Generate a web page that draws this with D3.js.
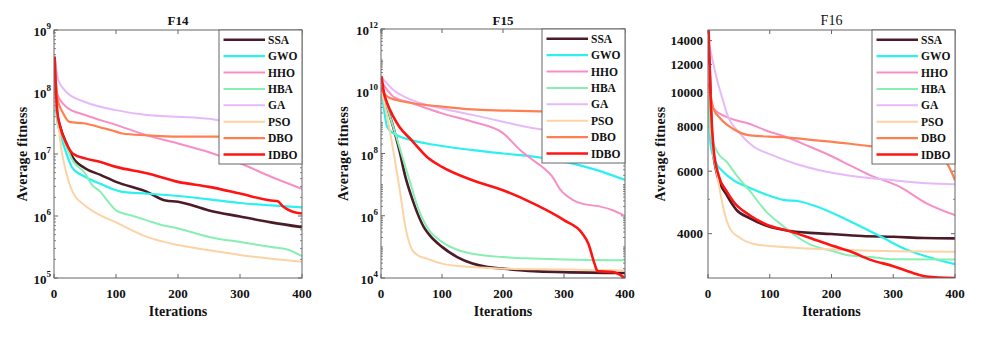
<!DOCTYPE html>
<html>
<head>
<meta charset="utf-8">
<script src="https://cdn.jsdelivr.net/npm/d3@7"></script>
<style>
body { margin: 0; background: #fff; }
text { font-family: "Liberation Serif", "Times New Roman", serif; fill: #111; }
</style>
</head>
<body>
<svg id="chart" width="981" height="338"></svg>
<script>
// ---- data: [iteration, average fitness] ----
const names = ["SSA", "GWO", "HHO", "HBA", "GA", "PSO", "DBO", "IDBO"];
const colors = ["#4b1c28", "#2cf0f0", "#f78fc6", "#88efb3", "#e6b9fb", "#fcd3a4", "#ff7f50", "#ff1414"];
const widths = [2.6, 2.2, 2, 2, 2, 2, 2.2, 2.6];
const iterTicks = [0, 100, 200, 300, 400];

// F14
const f14SSA = [[1,3.7e8],[5,4.5e7],[10,2.75e7],[20,1.48e7],[30,8.9e6],[50,5.9e6],[75,4.6e6],[100,3.55e6],[150,2.45e6],[180,1.78e6],[200,1.7e6],[250,1.23e6],[300,9.8e5],[350,7.9e5],[400,6.6e5]];
const f14GWO = [[1,3.7e8],[5,3.55e7],[10,2.14e7],[20,1.02e7],[30,5.9e6],[50,4.3e6],[75,3.3e6],[100,2.6e6],[110,2.45e6],[150,2.3e6],[200,2.1e6],[250,1.86e6],[300,1.62e6],[350,1.48e6],[400,1.38e6]];
const f14HHO = [[1,3.7e8],[5,9.5e7],[20,5.75e7],[50,4.25e7],[100,2.95e7],[150,2.0e7],[200,1.48e7],[250,1.07e7],[300,7.1e6],[350,4.3e6],[400,2.75e6]];
const f14HBA = [[1,3.7e8],[5,3.55e7],[10,2.4e7],[20,1.32e7],[30,7.9e6],[50,4.9e6],[60,3.3e6],[75,2.45e6],[90,1.58e6],[100,1.23e6],[125,1.02e6],[150,8.5e5],[175,7.1e5],[200,6.3e5],[250,4.6e5],[300,3.8e5],[350,3.16e5],[380,2.8e5],[400,2.25e5]];
const f14GA = [[1,3.7e8],[7,1.55e8],[20,1.0e8],[50,6.9e7],[100,5.1e7],[150,4.25e7],[200,4.0e7],[250,3.7e7],[270,3.45e7],[330,3.16e7],[400,2.8e7]];
const f14PSO = [[1,3.7e8],[3,1.38e8],[5,5.75e7],[10,1.66e7],[20,4.9e6],[30,2.45e6],[50,1.48e6],[75,1.02e6],[100,7.9e5],[125,5.9e5],[150,4.6e5],[200,3.4e5],[250,2.8e5],[300,2.35e5],[350,2.05e5],[400,1.82e5]];
const f14DBO = [[1,3.7e8],[5,8.3e7],[15,4.5e7],[25,3.3e7],[50,3.1e7],[80,2.6e7],[100,2.3e7],[110,2.14e7],[150,2.0e7],[200,1.9e7],[270,1.9e7],[330,1.78e7],[400,1.58e7]];
const f14IDBO = [[1,3.7e8],[5,5.1e7],[10,2.75e7],[20,1.48e7],[30,1.02e7],[50,8.5e6],[75,7.4e6],[100,6.2e6],[150,4.9e6],[200,3.55e6],[250,2.95e6],[300,2.3e6],[350,1.78e6],[360,1.74e6],[370,1.41e6],[385,1.17e6],[400,1.1e6]];

// F15
const f15SSA = [[1,1.6e10],[10,3.2e9],[20,7.2e8],[30,1.29e8],[40,1.78e7],[50,4.1e6],[60,1.17e6],[70,4.4e5],[80,2.35e5],[100,1.0e5],[125,4.7e4],[150,2.9e4],[175,2.24e4],[200,2.0e4],[250,1.66e4],[300,1.55e4],[400,1.45e4]];
const f15GWO = [[1,1.0e10],[5,2.5e9],[10,7.2e8],[20,4.5e8],[50,2.7e8],[75,2.1e8],[100,1.74e8],[150,1.29e8],[200,1.0e8],[250,7.9e7],[300,5.5e7],[350,3.1e7],[400,1.41e7]];
const f15HHO = [[1,2.0e10],[20,6.8e9],[50,4.2e9],[100,1.95e9],[150,1.05e9],[200,4.5e8],[228,1.3e8],[245,7.0e7],[266,3.5e7],[280,1.9e7],[295,6.5e6],[315,3.2e6],[331,2.4e6],[358,2.0e6],[380,1.5e6],[400,9.8e5]];
const f15HBA = [[1,1.6e10],[10,3.2e9],[20,7.2e8],[30,1.66e8],[40,3.7e7],[50,8.5e6],[60,1.95e6],[75,4.4e5],[100,1.45e5],[125,8.1e4],[150,6.0e4],[200,4.7e4],[250,4.2e4],[300,3.9e4],[400,3.7e4]];
const f15GA = [[1,2.8e10],[20,1.12e10],[50,5.25e9],[100,2.8e9],[150,1.74e9],[200,1.05e9],[250,6.5e8],[268,5.75e8],[330,4.0e8],[400,2.8e8]];
const f15PSO = [[1,1.0e10],[10,1.55e9],[20,1.29e8],[30,8.5e6],[40,4.4e5],[50,8.7e4],[60,5.4e4],[75,4.2e4],[100,2.9e4],[150,2.24e4],[200,2.0e4],[300,1.86e4],[400,1.74e4]];
const f15DBO = [[1,1.1e10],[10,6.8e9],[25,5.25e9],[50,4.2e9],[100,3.2e9],[150,2.6e9],[200,2.4e9],[265,2.24e9],[330,2.15e9],[400,2.1e9]];
const f15IDBO = [[1,2.95e10],[5,8.7e9],[10,4.2e9],[20,1.55e9],[30,7.2e8],[50,2.7e8],[75,7.9e7],[100,3.7e7],[150,1.38e7],[200,6.6e6],[250,2.45e6],[300,7.2e5],[330,2.7e5],[340,1.26e5],[350,2.9e4],[355,1.66e4],[380,1.55e4],[400,1.0e4]];

// F16
const f16SSA = [[1,13500],[2,12500],[7,7170],[15,5850],[30,5150],[46,4670],[68,4420],[95,4210],[133,4070],[200,3990],[250,3940],[300,3920],[350,3890],[400,3880]];
const f16GWO = [[1,9900],[4,7170],[12,6380],[25,5970],[41,5660],[68,5380],[95,5150],[122,4980],[149,4930],[176,4770],[214,4470],[240,4250],[278,3940],[321,3610],[354,3450],[400,3280]];
const f16HHO = [[1,10500],[9,9000],[30,8530],[68,8150],[95,7800],[128,7480],[165,7030],[203,6580],[230,6230],[262,5850],[310,5430],[354,4870],[400,4510]];
const f16HBA = [[1,9900],[4,7740],[15,6800],[30,6380],[46,5850],[68,5270],[95,4600],[122,4200],[138,3990],[165,3730],[203,3570],[230,3470],[262,3440],[300,3390],[400,3380]];
const f16GA = [[1,13850],[4,13120],[15,10800],[25,9400],[31,8690],[52,7660],[74,7030],[100,6700],[138,6330],[192,5980],[246,5780],[300,5660],[354,5550],[400,5510]];
const f16PSO = [[1,12000],[2,11150],[7,7170],[15,5850],[25,4710],[36,4120],[52,3890],[78,3730],[122,3670],[200,3610],[300,3570],[400,3560]];
const f16DBO = [[1,10660],[9,8990],[20,8450],[41,7890],[68,7570],[122,7480],[176,7330],[230,7170],[262,7060],[300,6980],[340,6850],[370,6600],[386,6350],[400,5660]];
const f16IDBO = [[1,15000],[4,9900],[9,6950],[17,5850],[30,5270],[41,4930],[68,4500],[95,4240],[133,4060],[165,3890],[203,3690],[230,3570],[262,3380],[300,3240],[332,3100],[354,3030],[400,3000]];

const f14Ticks = [1e5, 1e6, 1e7, 1e8, 1e9];
const f15Ticks = [1e4, 1e6, 1e8, 1e10, 1e12];
const f16Ticks = [4000, 6000, 8000, 10000, 12000, 14000];

// ---- layout ----
const panels = [
    {title: "F14", bold: true, left: 54, right: 302, top: 30, bottom: 278, yDomain: [1e5, 1e9], yTicks: f14Ticks, pow: true,
        series: [f14SSA, f14GWO, f14HHO, f14HBA, f14GA, f14PSO, f14DBO, f14IDBO], ylabX: 22},
    {title: "F15", bold: true, left: 381, right: 625, top: 29, bottom: 278, yDomain: [1e4, 1e12], yTicks: f15Ticks, pow: true,
        series: [f15SSA, f15GWO, f15HHO, f15HBA, f15GA, f15PSO, f15DBO, f15IDBO], ylabX: 343},
    {title: "F16", bold: false, left: 708, right: 955, top: 30, bottom: 278, yDomain: [3000, 15000], yTicks: f16Ticks, pow: false,
        series: [f16SSA, f16GWO, f16HHO, f16HBA, f16GA, f16PSO, f16DBO, f16IDBO], ylabX: 660}
];

const svg = d3.select("#chart");
const axisColor = "#666";

panels.forEach(function(p, pi) {
    let x = d3.scaleLinear().domain([0, 400]).range([p.left, p.right]);
    let y = d3.scaleLog().domain(p.yDomain).range([p.bottom, p.top]);
    let g = svg.append("g");

    // clip
    let clipId = "clip" + pi;
    svg.append("clipPath").attr("id", clipId)
        .append("rect").attr("x", p.left).attr("y", p.top)
        .attr("width", p.right - p.left).attr("height", p.bottom - p.top);

    // minor ticks
    let minor = [];
    if (p.pow) {
        let lo = Math.log10(p.yDomain[0]), hi = Math.log10(p.yDomain[1]);
        for (let d = lo; d < hi; d++) {
            for (let k = 2; k <= 9; k++) minor.push(k * Math.pow(10, d));
            if (p.yTicks.indexOf(Math.pow(10, d)) < 0) minor.push(Math.pow(10, d));
        }
    } else {
        minor = [5000];
    }
    minor.forEach(function(v) {
        g.append("line").attr("x1", p.left).attr("x2", p.left + 2)
            .attr("y1", y(v)).attr("y2", y(v)).attr("stroke", axisColor).attr("stroke-width", 0.8);
        g.append("line").attr("x1", p.right).attr("x2", p.right - 2)
            .attr("y1", y(v)).attr("y2", y(v)).attr("stroke", axisColor).attr("stroke-width", 0.8);
    });

    // major y ticks and labels
    p.yTicks.forEach(function(v) {
        g.append("line").attr("x1", p.left).attr("x2", p.left + 4)
            .attr("y1", y(v)).attr("y2", y(v)).attr("stroke", axisColor);
        g.append("line").attr("x1", p.right).attr("x2", p.right - 4)
            .attr("y1", y(v)).attr("y2", y(v)).attr("stroke", axisColor);
        if (p.pow) {
            let t = g.append("text").attr("x", p.left - 3).attr("y", y(v) + 6)
                .attr("text-anchor", "end").attr("font-weight", "bold").attr("font-size", 13);
            t.append("tspan").text("10");
            t.append("tspan").attr("dy", -7).attr("font-size", 9).text(Math.round(Math.log10(v)));
        } else {
            g.append("text").attr("x", p.left - 5).attr("y", y(v) + 4.5)
                .attr("text-anchor", "end").attr("font-weight", "bold").attr("font-size", 13)
                .text(v);
        }
    });

    // x ticks
    iterTicks.forEach(function(v) {
        g.append("line").attr("x1", x(v)).attr("x2", x(v))
            .attr("y1", p.bottom).attr("y2", p.bottom - 4).attr("stroke", axisColor);
        g.append("line").attr("x1", x(v)).attr("x2", x(v))
            .attr("y1", p.top).attr("y2", p.top + 4).attr("stroke", axisColor);
        g.append("text").attr("x", x(v)).attr("y", p.bottom + 20)
            .attr("text-anchor", "middle").attr("font-weight", "bold").attr("font-size", 13)
            .text(v);
    });

    // lines
    let line = d3.line().x(d => x(d[0])).y(d => y(d[1])).curve(d3.curveMonotoneX);
    let lg = g.append("g").attr("clip-path", "url(#" + clipId + ")");
    p.series.forEach(function(s, i) {
        lg.append("path").datum(s).attr("d", line)
            .attr("fill", "none").attr("stroke", colors[i])
            .attr("stroke-width", widths[i]).attr("stroke-linejoin", "round");
    });

    // frame
    g.append("rect").attr("x", p.left).attr("y", p.top)
        .attr("width", p.right - p.left).attr("height", p.bottom - p.top)
        .attr("fill", "none").attr("stroke", axisColor).attr("stroke-width", 1);

    // legend
    let lx = p.right - 83, ly = p.top;
    g.append("rect").attr("x", lx).attr("y", ly).attr("width", 83).attr("height", 134)
        .attr("fill", "#fff").attr("stroke", axisColor).attr("stroke-width", 1);
    names.forEach(function(n, i) {
        let yy = ly + 9.7 + i * 16.4;
        g.append("line").attr("x1", lx + 4.5).attr("x2", lx + 46)
            .attr("y1", yy).attr("y2", yy).attr("stroke", colors[i]).attr("stroke-width", widths[i]);
        g.append("text").attr("x", lx + 49).attr("y", yy + 4)
            .attr("font-weight", "bold").attr("font-size", 11.5).text(n);
    });

    // title and axis labels
    let cx = (p.left + p.right) / 2;
    g.append("text").attr("x", cx).attr("y", 25).attr("text-anchor", "middle")
        .attr("font-weight", p.bold ? "bold" : "normal").attr("font-size", p.bold ? 13 : 14)
        .text(p.title);
    g.append("text").attr("x", cx).attr("y", 316).attr("text-anchor", "middle")
        .attr("font-weight", "bold").attr("font-size", 14).text("Iterations");
    g.append("text")
        .attr("transform", "translate(" + (p.ylabX + 5) + "," + ((p.top + p.bottom) / 2) + ") rotate(-90)")
        .attr("text-anchor", "middle").attr("font-weight", "bold").attr("font-size", 14)
        .attr("letter-spacing", 0.3).text("Average fitness");
});
</script>
</body>
</html>
